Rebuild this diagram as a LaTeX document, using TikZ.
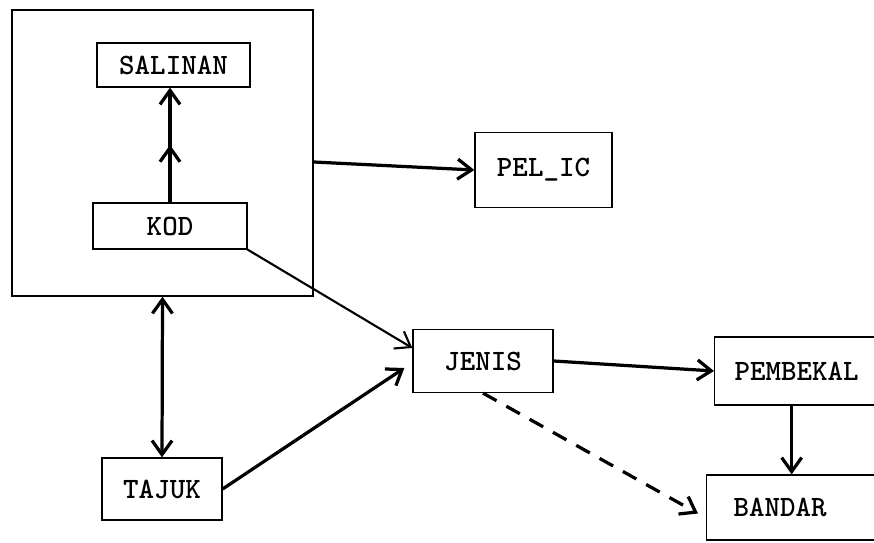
\documentclass[tikz,border=0pt]{standalone}
\usepackage{fontspec}
\newfontfamily\typewr{lmmonolt10-bold.otf}
\usetikzlibrary{arrows.meta,decorations.markings}

\begin{document}
\begin{tikzpicture}[x=0.025cm,y=-0.025cm,
    every node/.style={font=\typewr\fontsize{21}{24}\selectfont},
    ent/.style={draw,line width=0.9pt,inner sep=0pt},
    cut/.style={ent,anchor=west,text width=2.9cm,align=left},
    conn/.style={line width=2.3pt,-{Straight Barb[length=3.5mm,width=5mm]}},
    twohead/.style={postaction={decorate},decoration={markings,
        mark=at position 0.5 with {\arrow{Straight Barb[length=3.5mm,width=5mm]}}}}]
    \useasboundingbox (0,0) rectangle (874,543);
    % group frame
    \node[ent,minimum width=7.525cm,minimum height=7.15cm] (grp) at (162.5,153) {};
    \node[ent,minimum width=3.825cm,minimum height=1.1cm] (salinan) at (173.5,65) {SALINAN};
    \node[ent,minimum width=3.85cm,minimum height=1.15cm] (kod) at (170,226) {KOD};
    % other entities
    \node[ent,minimum width=3.425cm,minimum height=1.875cm] (pelic) at (543.5,170) {PEL\_IC};
    \node[ent,minimum width=3.5cm,minimum height=1.575cm] (jenis) at (483,361) {JENIS};
    \node[ent,minimum width=3cm,minimum height=1.55cm] (tajuk) at (162,489) {TAJUK};
    \node[cut,inner xsep=0.5cm,text width=3.25cm,minimum height=1.7cm] (pembekal) at (714,371) {PEMBEKAL};
    \node[cut,inner xsep=0.675cm,minimum height=1.625cm] (bandar) at (706,507.5) {BANDAR};
    % links
    \draw[conn,twohead] (kod.north) -- (kod.north |- salinan.south);
    \draw[conn] ([yshift=-0.225cm]grp.east) -- (pelic.west);
    \draw[conn,{Straight Barb[length=3.5mm,width=5mm]}-{Straight Barb[length=3.5mm,width=5mm]}] (grp.south) -- (tajuk.north);
    \draw[conn,line width=1.5pt] (kod.south east) -- ([yshift=0.325cm]jenis.west);
    \draw[conn] (tajuk.east) -- ([xshift=-0.2cm,yshift=-0.175cm]jenis.west);
    \draw[conn] (jenis.east) -- (pembekal.west);
    \draw[conn] (pembekal.south -| bandar.north) -- (bandar.north);
    \draw[conn,dash pattern=on 11pt off 8pt] (jenis.south) -- ([xshift=-0.2cm,yshift=-0.15cm]bandar.west);
\end{tikzpicture}
\end{document}
